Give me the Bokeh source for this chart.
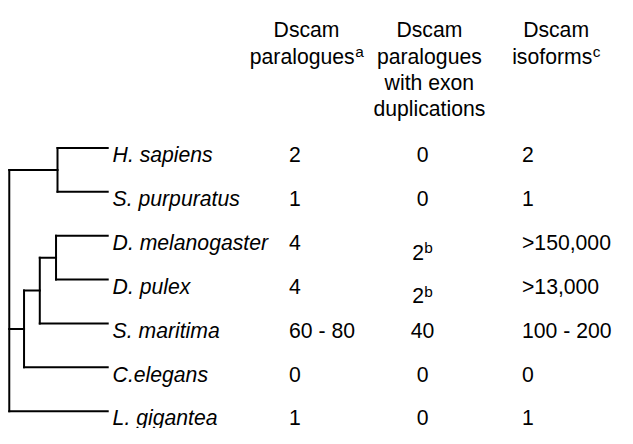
from bokeh.plotting import figure
from bokeh.models import Range1d
from bokeh.core.properties import value
from bokeh.embed import file_html
from bokeh.resources import INLINE

# ---------------- data ----------------
species = ["H. sapiens", "S. purpuratus", "D. melanogaster", "D. pulex",
           "S. maritima", "C.elegans", "L. gigantea"]
paralogues = ["2", "1", "4", "4", "60 - 80", "0", "1"]
exon_dup = ["0", "0", "2", "2", "40", "0", "0"]
exon_dup_note = ["", "", "b", "b", "", "", ""]
isoforms = ["2", "1", ">150,000", ">13,000", "100 - 200", "0", "1"]

header_lines = [["Dscam", "paralogues"],
                ["Dscam", "paralogues", "with exon", "duplications"],
                ["Dscam", "isoforms"]]
header_notes = ["a", "", "c"]

# tree topology (leaf = species index) with relative node depth (root 0, tips 1)
tree = {"d": 0.0, "kids": [
    {"d": 0.49, "kids": [0, 1]},
    {"d": 0.15, "kids": [
        {"d": 0.31, "kids": [
            {"d": 0.475, "kids": [2, 3]},
            4]},
        5]},
    6]}

# ---------------- layout (in reference-pixel units) ----------------
REF_W, REF_H = 633, 444
W, H = 617, 428
scale = min(W / REF_W, H / REF_H)
FONT = value("Liberation Sans")
SIZE = 22            # font size in reference pixels
SUP = 16
FS = f"{SIZE * scale:.1f}px"
FS_SUP = f"{SUP * scale:.1f}px"
row_y0, row_dy = 160, 45.5
row_y = [row_y0 + row_dy * i for i in range(len(species))]
tree_x0, tree_x1 = 9, 110
name_x = 115
col_head_x = [314, 440, 570]
head_y0, head_dy = 30.5, 27.3
c1_left, c2_center, c3_left = 296, 433, 535

ADV = {'a': .556, 'b': .556, 'c': .5, 'd': .556, 'e': .556, 'f': .278, 'g': .556,
       'h': .556, 'i': .222, 'l': .222, 'm': .833, 'n': .556, 'o': .556, 'p': .556,
       'r': .333, 's': .5, 't': .278, 'u': .556, 'w': .722, 'x': .5, 'D': .722,
       'S': .667, ' ': .278, '-': .333, ',': .278, '>': .584}


def tw(s, size):
    return sum(ADV.get(ch, .556) for ch in s) * size


p = figure(width=W, height=H, x_range=Range1d(0, REF_W), y_range=Range1d(REF_H, 0),
           output_backend="svg", toolbar_location=None,
           x_axis_type=None, y_axis_type=None, min_border=0)
p.grid.visible = False
p.outline_line_color = None
p.background_fill_color = "white"
p.border_fill_color = "white"

# ---------------- tree ----------------
seg = {"x0": [], "y0": [], "x1": [], "y1": []}


def px(d):
    return tree_x0 + d * (tree_x1 - tree_x0)


def layout(node):
    if isinstance(node, int):
        return 1.0, row_y[node] - 7
    ys = []
    for k in node["kids"]:
        kd, ky = layout(k)
        seg["x0"].append(px(node["d"])); seg["y0"].append(ky)
        seg["x1"].append(px(kd)); seg["y1"].append(ky)
        ys.append(ky)
    seg["x0"].append(px(node["d"])); seg["y0"].append(min(ys))
    seg["x1"].append(px(node["d"])); seg["y1"].append(max(ys))
    return node["d"], (min(ys) + max(ys)) / 2


layout(tree)
p.segment(x0=seg["x0"], y0=seg["y0"], x1=seg["x1"], y1=seg["y1"],
          line_width=2, line_color="black", line_cap="square")

# ---------------- species names ----------------
p.text(x=[name_x] * len(species), y=row_y, text=species, text_font=FONT,
       text_font_size=FS, text_font_style="italic", text_align="left",
       text_baseline="alphabetic", text_color="black")

# ---------------- headers ----------------
hx, hy, ht = [], [], []
sx, sy, st = [], [], []
for ci, lines in enumerate(header_lines):
    for li, line in enumerate(lines):
        y = head_y0 + head_dy * li
        note = header_notes[ci] if li == len(lines) - 1 else ""
        if note:
            total = tw(line, SIZE) + tw(note, SUP)
            start = col_head_x[ci] - total / 2
            hx.append(start + tw(line, SIZE) / 2); hy.append(y); ht.append(line)
            sx.append(start + tw(line, SIZE)); sy.append(y - 5); st.append(note)
        else:
            hx.append(col_head_x[ci]); hy.append(y); ht.append(line)
p.text(x=hx, y=hy, text=ht, text_font=FONT, text_font_size=FS,
       text_align="center", text_baseline="alphabetic", text_color="black")

# ---------------- values ----------------
p.text(x=[c1_left] * len(paralogues), y=row_y, text=paralogues, text_font=FONT,
       text_font_size=FS, text_align="left", text_baseline="alphabetic",
       text_color="black")
p.text(x=[c3_left] * len(isoforms), y=row_y, text=isoforms, text_font=FONT,
       text_font_size=FS, text_align="left", text_baseline="alphabetic",
       text_color="black")

vx, vy, vt = [], [], []
for i, (v, n) in enumerate(zip(exon_dup, exon_dup_note)):
    if n:
        total = tw(v, SIZE) + tw(n, SUP)
        start = c2_center - total / 2
        y = row_y[i] + 10
        vx.append(start + tw(v, SIZE) / 2); vy.append(y); vt.append(v)
        sx.append(start + tw(v, SIZE)); sy.append(y - 5); st.append(n)
    else:
        vx.append(c2_center); vy.append(row_y[i]); vt.append(v)
p.text(x=vx, y=vy, text=vt, text_font=FONT, text_font_size=FS,
       text_align="center", text_baseline="alphabetic", text_color="black")

p.text(x=sx, y=sy, text=st, text_font=FONT, text_font_size=FS_SUP,
       text_align="left", text_baseline="alphabetic", text_color="black")

open("out.html", "w").write(file_html(p, INLINE))
